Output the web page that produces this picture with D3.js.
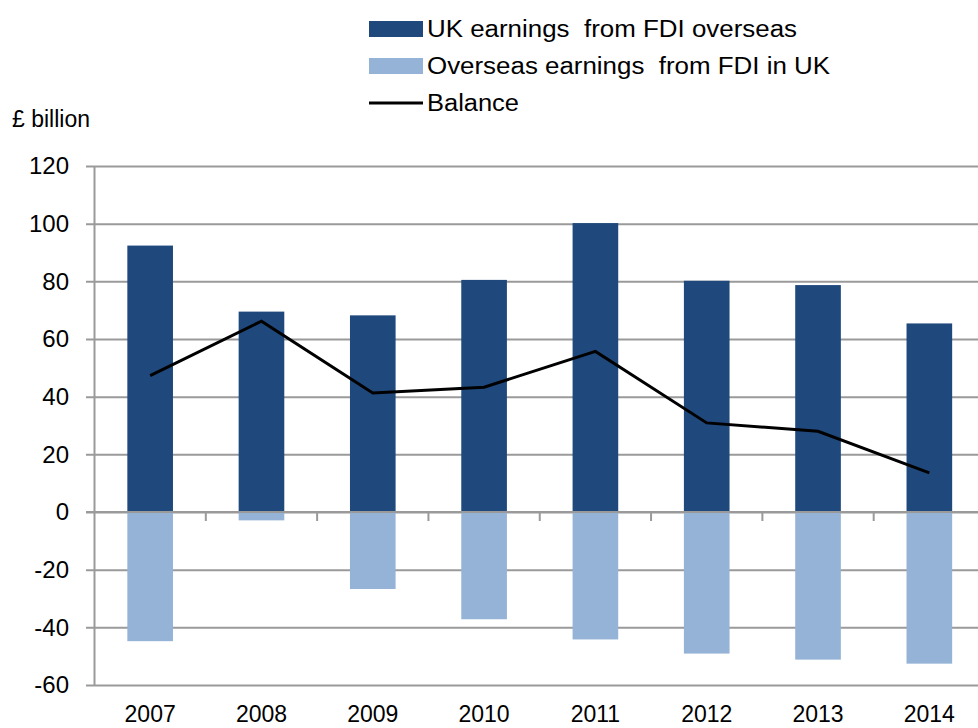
<!DOCTYPE html>
<html lang="en">
	<head>
		<meta charset="utf-8">
		<title>UK FDI earnings</title>
		<script type="text/javascript" src="https://cdn.jsdelivr.net/npm/d3@7"></script>
		<style type="text/css">
			body { margin: 0; background: #fff; }
			text { font-family: "Liberation Sans", Arial, sans-serif; fill: #000; }
		</style>
	</head>
	<body>
		<script type="text/javascript">

			//Data (£ billion)
			let years = ["2007", "2008", "2009", "2010", "2011", "2012", "2013", "2014"];
			let ukEarnings = [92.4, 69.5, 68.2, 80.5, 100.2, 80.2, 78.7, 65.4];
			let overseasEarnings = [-44.8, -2.9, -26.7, -37.2, -44.2, -49.1, -51.2, -52.6];
			let balance = [47.3, 66.2, 41.3, 43.3, 55.7, 30.9, 28.0, 13.6];
			let yTicks = [-60, -40, -20, 0, 20, 40, 60, 80, 100, 120];

			let seriesNames = ["UK earnings  from FDI overseas", "Overseas earnings  from FDI in UK", "Balance"];
			let seriesColors = ["#1f497d", "#95b3d7", "#000000"];

			//Width and height
			let w = 978;
			let h = 728;

			let svg = d3.select("body")
						.append("svg")
						.attr("width", w)
						.attr("height", h);

			//Scales
			let x = d3.scaleBand()
						.domain(years)
						.range([94.5, 985])
						.padding(0);

			let y = d3.scaleLinear()
						.domain([-60, 120])
						.range([685, 166]);

			let barW = x.bandwidth() * 0.41;

			//Gridlines and y labels (plain hyphen for negatives, as in the original)
			let yAxis = d3.axisLeft(y)
						.tickValues(yTicks)
						.tickSize(-(w - 86))
						.tickFormat((d) => String(d));

			let gy = svg.append("g")
						.attr("transform", "translate(" + (w) + ",0)")
						.call(yAxis);
			gy.select(".domain").remove();
			gy.selectAll(".tick line")
				.attr("x1", 0)
				.attr("x2", -(w - 86))
				.attr("stroke", "#9a9a9a")
				.attr("stroke-width", 2);
			gy.selectAll(".tick text")
				.attr("x", -(w - 69))
				.attr("text-anchor", "end")
				.style("font-size", "24px")
				.style("fill", "#000");

			//Vertical axis line
			svg.append("line")
				.attr("x1", 94.5).attr("x2", 94.5)
				.attr("y1", y(120)).attr("y2", y(-60))
				.attr("stroke", "#9a9a9a")
				.attr("stroke-width", 2);

			//Bars
			svg.selectAll("rect.uk")
				.data(years)
				.enter()
				.append("rect")
				.attr("class", "uk")
				.attr("x", (d) => x(d) + x.bandwidth() / 2 - barW / 2)
				.attr("y", (d, i) => y(ukEarnings[i]))
				.attr("width", barW)
				.attr("height", (d, i) => y(0) - y(ukEarnings[i]))
				.attr("fill", seriesColors[0]);

			svg.selectAll("rect.os")
				.data(years)
				.enter()
				.append("rect")
				.attr("class", "os")
				.attr("x", (d) => x(d) + x.bandwidth() / 2 - barW / 2)
				.attr("y", y(0))
				.attr("width", barW)
				.attr("height", (d, i) => y(overseasEarnings[i]) - y(0))
				.attr("fill", seriesColors[1]);

			//Category axis on the zero line
			svg.append("line")
				.attr("x1", 86).attr("x2", w)
				.attr("y1", y(0)).attr("y2", y(0))
				.attr("stroke", "#9a9a9a")
				.attr("stroke-width", 2);
			svg.selectAll("line.xtick")
				.data(years.slice(1))
				.enter()
				.append("line")
				.attr("class", "xtick")
				.attr("x1", (d) => x(d)).attr("x2", (d) => x(d))
				.attr("y1", y(0)).attr("y2", y(0) + 9)
				.attr("stroke", "#9a9a9a")
				.attr("stroke-width", 2);

			//Year labels
			svg.selectAll("text.year")
				.data(years)
				.enter()
				.append("text")
				.attr("class", "year")
				.attr("x", (d) => x(d) + x.bandwidth() / 2)
				.attr("y", 722)
				.attr("text-anchor", "middle")
				.style("font-size", "23px")
				.text((d) => d);

			//Balance line
			let line = d3.line()
						.x((d, i) => x(years[i]) + x.bandwidth() / 2)
						.y((d) => y(d));

			svg.append("path")
				.datum(balance)
				.attr("d", line)
				.attr("fill", "none")
				.attr("stroke", seriesColors[2])
				.attr("stroke-width", 3);

			//Unit label
			svg.append("text")
				.attr("x", 12)
				.attr("y", 127)
				.style("font-size", "23px")
				.text("£ billion");

			//Legend
			let legendW = [370, 403, 92];
			let legend = svg.selectAll("g.legend")
							.data(seriesNames)
							.enter()
							.append("g")
							.attr("class", "legend")
							.attr("transform", (d, i) => "translate(369," + (29 + i * 37) + ")");

			legend.each(function (d, i) {
				let g = d3.select(this);
				if (i < 2) {
					g.append("rect")
						.attr("x", 0).attr("y", -8)
						.attr("width", 54).attr("height", 16)
						.attr("fill", seriesColors[i]);
				} else {
					g.append("line")
						.attr("x1", 0).attr("x2", 54)
						.attr("y1", 0).attr("y2", 0)
						.attr("stroke", seriesColors[i])
						.attr("stroke-width", 3);
				}
				g.append("text")
					.attr("x", 58)
					.attr("y", 8)
					.attr("textLength", legendW[i])
					.attr("lengthAdjust", "spacingAndGlyphs")
					.style("font-size", "23px")
					.style("white-space", "pre")
					.text(d);
			});

		</script>
	</body>
</html>
